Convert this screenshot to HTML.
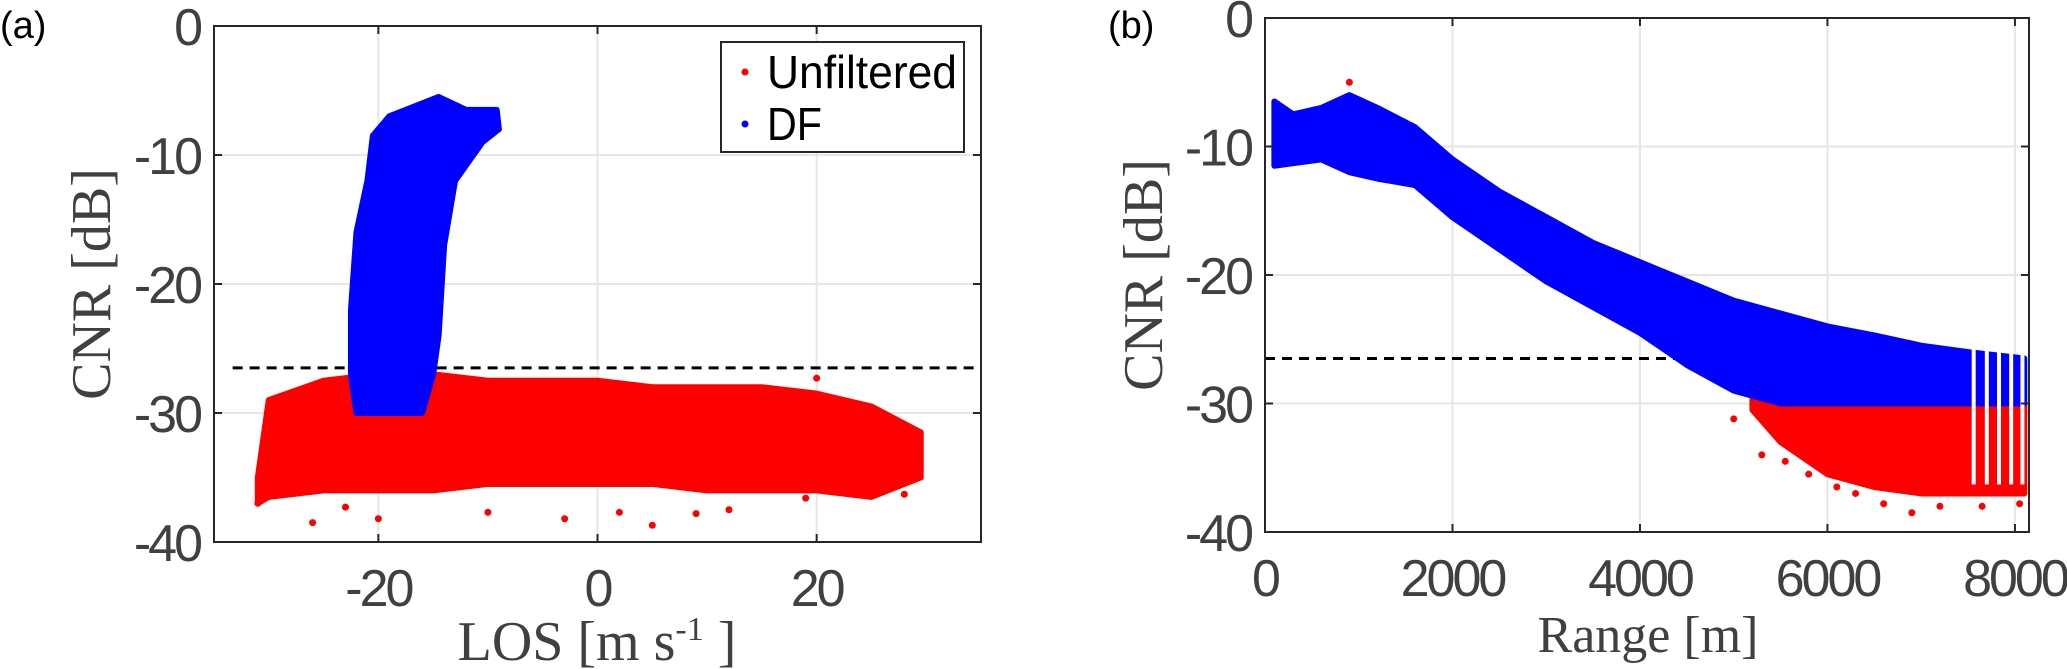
<!DOCTYPE html>
<html><head><meta charset="utf-8"><style>
html,body{margin:0;padding:0;background:#fff;}
svg{display:block;}
.tick{font-family:"Liberation Sans",sans-serif;font-size:52px;fill:#404040;letter-spacing:-3px;}
.lab{font-family:"Liberation Serif",serif;fill:#404040;}
</style></head><body>
<svg id="fig" width="2067" height="669" viewBox="0 0 2067 669"></svg>
<script>
// ---- Panel (a) data ----
const aBlueLos = [-22.5,-22,-16,-15,-14.5,-14,-13,-10.5,-9,-9.2,-12,-14.5,-16,-19,-20.5,-21,-22,-22.5];
const aBlueCnr = [-27,-30,-30,-27,-24,-17,-12,-9,-8,-6.5,-6.5,-5.5,-6,-7,-8.5,-12,-16,-22];
const aRedLos  = [-31,-30,-25,-20,-15,-10,-5,0,5,10,15,20,25,29.5];
const aRedUp   = [-35,-29,-27.5,-27,-27,-27.5,-27.5,-27.5,-28,-28,-28,-28.5,-29.5,-31.5];
const aRedLow  = [-37,-36.5,-36,-36,-36,-35.5,-35.5,-35.5,-35.5,-36,-36,-36,-36.5,-35];
const aOutLos  = [-26,-23,-20,-10,-3,2,5,9,12,19,20,-31,28];
const aOutCnr  = [-38.5,-37.3,-38.2,-37.7,-38.2,-37.7,-38.7,-37.8,-37.5,-36.6,-27.3,-37,-36.3];
const aThreshold = -26.5;
// ---- Panel (b) data ----
const bRange = [100,300,600,900,1200,1600,2000,2500,3000,3500,4000,4500,5000,5500,6000,6500,7000,7500,8100];
const bUp    = [-6.5,-7.5,-7,-6,-7,-8.5,-11,-13.5,-15.5,-17.5,-19,-20.5,-22,-23,-24,-24.7,-25.5,-26,-26.5];
const bLow   = [-11.5,-11.3,-11,-12,-12.5,-13,-15.5,-18,-20.5,-22.5,-24.5,-27,-29,-30,-30,-30,-30,-30,-30];
const bRedRange = [5200,5500,6000,6500,7000,7500,8100];
const bRedUp    = [-29,-30,-30,-30,-30,-30,-30];
const bRedLow   = [-30.5,-33,-35.5,-36.5,-37,-37,-37];
const bGaps  = [7560,7700,7830,7960,8080];
const bOutRange = [900,5000,5300,5550,5800,6100,6300,6600,6900,7200,7650,8050];
const bOutCnr   = [-5,-31.2,-34,-34.5,-35.5,-36.5,-37,-37.8,-38.5,-38,-38,-37.8];
const bThreshold = -26.5;

const NS="http://www.w3.org/2000/svg";
const svg=document.getElementById('fig');
function el(tag,attrs,parent,text){const e=document.createElementNS(NS,tag);for(const k in attrs)e.setAttribute(k,attrs[k]);if(text!==undefined)e.textContent=text;(parent||svg).appendChild(e);return e;}

function panel(p){
  const g=el('g',{});
  
  
  const X=v=>p.x0+(v-p.xmin)/(p.xmax-p.xmin)*(p.x1-p.x0);
  const Y=v=>p.y0+(p.ymax-v)/(p.ymax-p.ymin)*(p.y1-p.y0);
  p.xticks.forEach(t=>{const l=el('line',{x1:X(t),x2:X(t),y1:p.y0,y2:p.y1,stroke:'#e6e6e6','stroke-width':2},g);});
  p.yticks.forEach(t=>{const l=el('line',{x1:p.x0,x2:p.x1,y1:Y(t),y2:Y(t),stroke:'#e6e6e6','stroke-width':2},g);});
  return {g,X,Y};
}
function band(g,X,Y,xs,up,low,color,name){
  let d='M'+xs.map((x,i)=>X(x)+','+Y(up[i])).join('L');
  for(let i=xs.length-1;i>=0;i--)d+='L'+X(xs[i])+','+Y(low[i]);
  const e=el('path',{d:d+'Z',fill:color,stroke:color,'stroke-width':6,'stroke-linejoin':'round'},g);
  
  
}
function poly(g,X,Y,xs,ys,color,name){
  const d='M'+xs.map((x,i)=>X(x)+','+Y(ys[i])).join('L')+'Z';
  const e=el('path',{d:d,fill:color,stroke:color,'stroke-width':6,'stroke-linejoin':'round'},g);
  
  
}
function dots(g,X,Y,xs,ys,color,name){
  xs.forEach((x,i)=>{const c=el('circle',{cx:X(x),cy:Y(ys[i]),r:3.5,fill:color},g);
  
  });
}
function frame(g,p,X,Y,xlabels,ylabels){
  const r=el('rect',{x:p.x0,y:p.y0,width:p.x1-p.x0,height:p.y1-p.y0,fill:'none',stroke:'#262626','stroke-width':2},g);
  
  p.xticks.forEach((t,i)=>{el('line',{x1:X(t),x2:X(t),y1:p.y1,y2:p.y1-8,stroke:'#262626','stroke-width':2},g);el('line',{x1:X(t),x2:X(t),y1:p.y0,y2:p.y0+8,stroke:'#262626','stroke-width':2},g);
    const tx=el('text',{x:X(t),y:p.y1+64,'text-anchor':'middle',class:'tick'},g,xlabels[i]);});
  p.yticks.forEach((t,i)=>{el('line',{x1:p.x0,x2:p.x0+8,y1:Y(t),y2:Y(t),stroke:'#262626','stroke-width':2},g);el('line',{x1:p.x1,x2:p.x1-8,y1:Y(t),y2:Y(t),stroke:'#262626','stroke-width':2},g);
    const tx=el('text',{x:p.x0-14,y:Y(t)+19,'text-anchor':'end',class:'tick'},g,ylabels[i]);});
}

// ---- Panel (a) ----
const pa={name:'panel-a',x0:214,x1:981,y0:26,y1:542,xmin:-35,xmax:35,ymin:-40,ymax:0,xticks:[-20,0,20],yticks:[0,-10,-20,-30,-40]};
const A=panel(pa);
const dA=el('line',{x1:A.X(-33.3),x2:pa.x1,y1:A.Y(aThreshold),y2:A.Y(aThreshold),stroke:'#000','stroke-width':3,'stroke-dasharray':'10,7'},A.g);

band(A.g,A.X,A.Y,aRedLos,aRedUp,aRedLow,'#ff0000','unfiltered-band');
dots(A.g,A.X,A.Y,aOutLos,aOutCnr,'#ff0000','unfiltered-point');
poly(A.g,A.X,A.Y,aBlueLos,aBlueCnr,'#0000ff','df-region');
frame(A.g,pa,A.X,A.Y,['-20','0','20'],['0','-10','-20','-30','-40']);
// legend
const lg=el('g',{});
el('rect',{x:721,y:42,width:243,height:110,fill:'#fff',stroke:'#262626','stroke-width':2},lg);
el('circle',{cx:745,cy:72,r:3.5,fill:'#ff0000'},lg);
const l1=el('text',{x:767,y:88,class:'tick',style:'fill:#000;font-size:46px;letter-spacing:0',textLength:190,lengthAdjust:'spacingAndGlyphs'},lg,'Unfiltered');
el('circle',{cx:745,cy:124,r:3.5,fill:'#0000ff'},lg);
const l2=el('text',{x:767,y:140,class:'tick',style:'fill:#000;font-size:46px;letter-spacing:0',textLength:55,lengthAdjust:'spacingAndGlyphs'},lg,'DF');
// labels a
const ta=el('text',{x:0,y:38,class:'tick',style:'fill:#000;font-size:38px;letter-spacing:0'},svg,'(a)');
const yla=el('text',{x:0,y:0,class:'lab','font-size':56,'text-anchor':'middle',transform:'translate(110,284) rotate(-90)'},svg,'CNR [dB]');
const xla=el('text',{x:597,y:660,class:'lab','font-size':56,'text-anchor':'middle'},svg);

xla.innerHTML='LOS [m s<tspan dy="-20" font-size="34">-1</tspan><tspan dy="20"> ]</tspan>';

// ---- Panel (b) ----
const pb={name:'panel-b',x0:1265,x1:2029,y0:18,y1:532,xmin:0,xmax:8150,ymin:-40,ymax:0,xticks:[0,2000,4000,6000,8000],yticks:[0,-10,-20,-30,-40]};
const B=panel(pb);
const dB=el('line',{x1:pb.x0,x2:pb.x1,y1:B.Y(bThreshold),y2:B.Y(bThreshold),stroke:'#000','stroke-width':3,'stroke-dasharray':'10,7'},B.g);

band(B.g,B.X,B.Y,bRedRange,bRedUp,bRedLow,'#ff0000','unfiltered-band');
dots(B.g,B.X,B.Y,bOutRange,bOutCnr,'#ff0000','unfiltered-point');
band(B.g,B.X,B.Y,bRange,bUp,bLow,'#0000ff','df-band');
bGaps.forEach(r=>{const gp=el('rect',{x:B.X(r)-2,y:B.Y(-25.5),width:4,height:B.Y(-36.3)-B.Y(-25.5),fill:'#fff'},B.g);
});
frame(B.g,pb,B.X,B.Y,['0','2000','4000','6000','8000'],['0','-10','-20','-30','-40']);
const tb=el('text',{x:1108,y:38,class:'tick',style:'fill:#000;font-size:38px;letter-spacing:0'},svg,'(b)');
const ylb=el('text',{x:0,y:0,class:'lab','font-size':56,'text-anchor':'middle',transform:'translate(1162,275) rotate(-90)'},svg,'CNR [dB]');
const xlb=el('text',{x:1648,y:652,class:'lab','font-size':52,'text-anchor':'middle'},svg,'Range [m]');
</script>
</body></html>
